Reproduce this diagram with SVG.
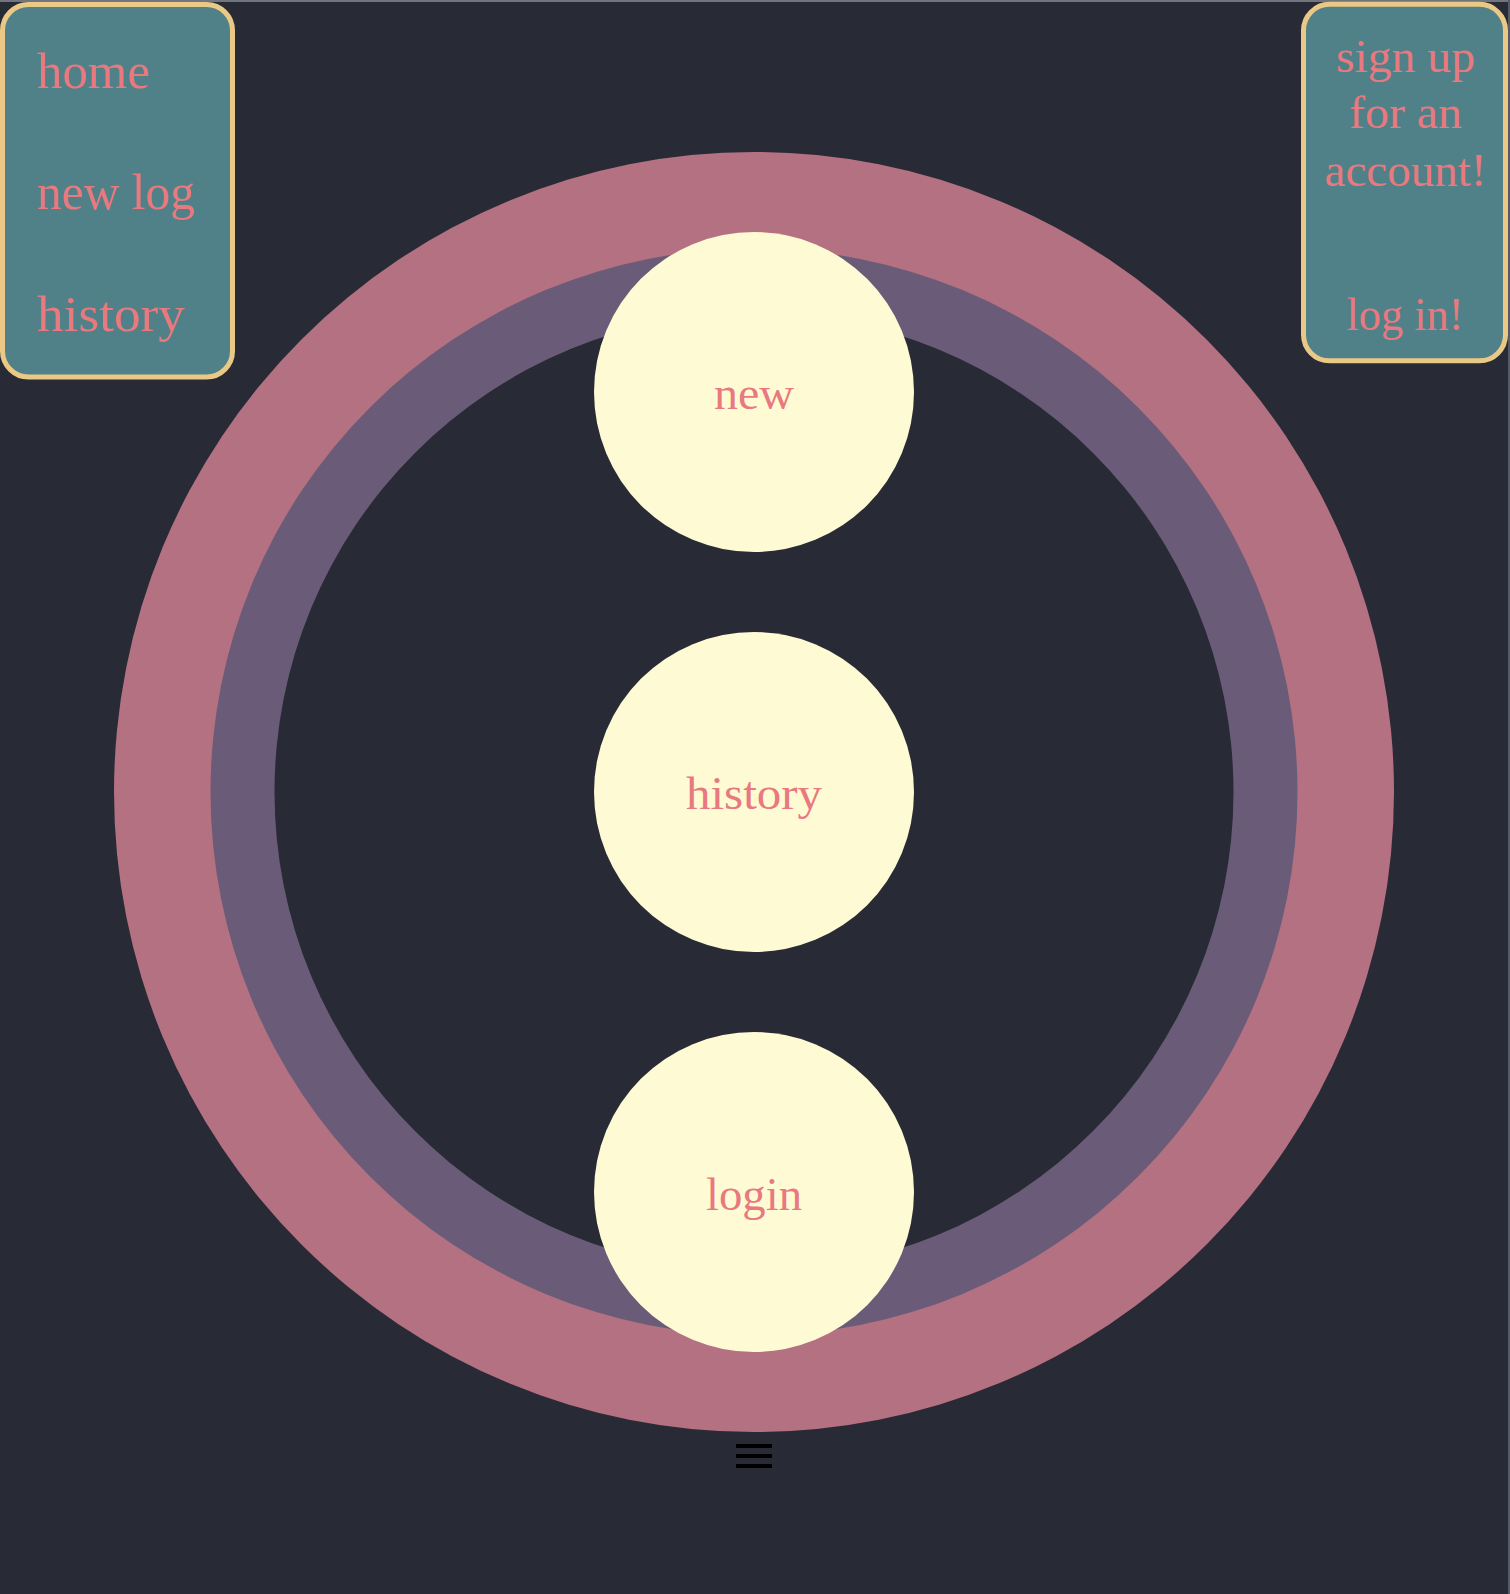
<svg xmlns="http://www.w3.org/2000/svg" width="1510" height="1594" viewBox="0 0 1510 1594">
<style>
.bg{fill:#282a35}
.panel{fill:#508088;stroke:#e9c985;stroke-width:5}
.t{font-family:"Liberation Serif","DejaVu Serif",serif;fill:#e8797f;lengthAdjust:spacingAndGlyphs}
.side{font-size:50px}
.mid{font-size:46px;text-anchor:middle}
.bubble{fill:#fefad4}
.bar{fill:#000}
</style>
<rect class="bg" x="0" y="0" width="1510" height="1594"/>
<rect x="0" y="0" width="1510" height="2" fill="#71757d"/>
<rect x="1508" y="0" width="2" height="1594" fill="#555a66"/>
<g id="rings">
<circle cx="754" cy="792" r="640" fill="#b47182"/>
<circle cx="754" cy="792" r="543.5" fill="#6a5c78"/>
<circle cx="754" cy="792" r="479.5" fill="#282a35"/>
</g>
<g id="sidebar-left">
<rect class="panel" x="2.5" y="4.5" width="230" height="372.5" rx="26"/>
<text class="t side" x="37" y="88" textLength="113" lengthAdjust="spacingAndGlyphs">home</text>
<text class="t side" x="37" y="209" textLength="158" lengthAdjust="spacingAndGlyphs">new log</text>
<text class="t side" x="37" y="331" textLength="148" lengthAdjust="spacingAndGlyphs">history</text>
</g>
<g id="sidebar-right">
<rect class="panel" x="1303.5" y="4.3" width="202" height="356.5" rx="26"/>
<text class="t mid" x="1405.5" y="71.5" textLength="139" lengthAdjust="spacingAndGlyphs">sign up</text>
<text class="t mid" x="1405.5" y="128.3" textLength="113" lengthAdjust="spacingAndGlyphs">for an</text>
<text class="t mid" x="1405.5" y="186" textLength="162" lengthAdjust="spacingAndGlyphs">account!</text>
<text class="t mid" x="1405" y="330" textLength="117" lengthAdjust="spacingAndGlyphs">log in!</text>
</g>
<g id="node-new">
<circle class="bubble" cx="754" cy="392" r="160"/>
<text class="t mid" x="754" y="409.3" textLength="80" lengthAdjust="spacingAndGlyphs">new</text>
</g>
<g id="node-history">
<circle class="bubble" cx="754" cy="792" r="160"/>
<text class="t mid" x="754" y="809.3" textLength="136" lengthAdjust="spacingAndGlyphs">history</text>
</g>
<g id="node-login">
<circle class="bubble" cx="754" cy="1192" r="160"/>
<text class="t mid" x="754" y="1210" textLength="96" lengthAdjust="spacingAndGlyphs">login</text>
</g>
<g id="menu-icon">
<rect class="bar" x="736" y="1444" width="36" height="4"/>
<rect class="bar" x="736" y="1454" width="36" height="4"/>
<rect class="bar" x="736" y="1464" width="36" height="4"/>
</g>
<g id="connectors"></g>
</svg>
